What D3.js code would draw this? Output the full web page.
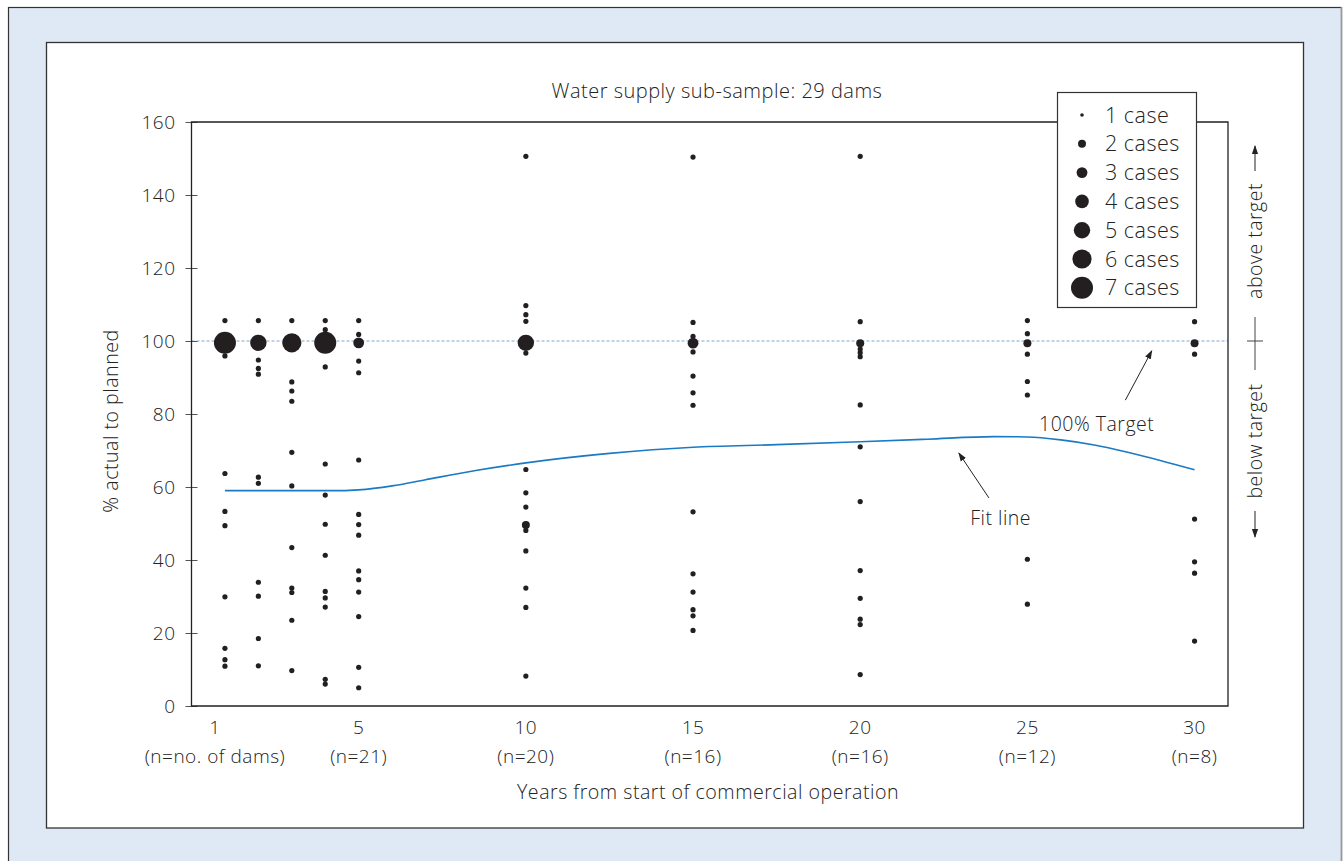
<!DOCTYPE html>
<html>
<head>
<meta charset="utf-8">
<title>Water supply sub-sample</title>
<script src="https://cdnjs.cloudflare.com/ajax/libs/d3/7.8.5/d3.min.js"></script>
<style>
body { margin: 0; background: #fff; overflow: hidden; }
svg text { font-family: "Open Sans", "Noto Sans", sans-serif; font-weight: 300; fill: #222; letter-spacing: 0.5px; }
.tick text { font-size: 19px; }
</style>
</head>
<body>
<div id="chart"></div>
<script>
// single-case observations, % actual to planned, by year
var year1 = [105.6, 95.9, 63.7, 53.3, 49.4, 29.9, 15.8, 12.7, 10.9];
var year2 = [105.6, 94.8, 92.5, 90.9, 62.7, 61.0, 33.9, 30.1, 18.5, 11.0];
var year3 = [105.6, 88.8, 86.3, 83.5, 69.5, 60.3, 43.4, 32.3, 31.1, 23.5, 9.7];
var year4 = [105.6, 103.1, 92.9, 66.3, 57.8, 49.8, 41.3, 31.4, 29.6, 27.1, 7.3, 6.0];
var year5 = [105.6, 101.8, 94.5, 91.3, 67.4, 52.5, 49.7, 46.8, 37.0, 34.6, 31.2, 24.5, 10.6, 5.0];
var year10 = [150.6, 109.7, 107.2, 105.4, 96.7, 64.8, 58.4, 54.5, 48.1, 42.5, 32.3, 27.0, 8.2];
var year15 = [150.4, 105.1, 101.3, 97.0, 90.4, 85.8, 82.4, 53.2, 36.2, 31.2, 26.4, 24.7, 20.7];
var year20 = [150.6, 105.3, 97.8, 96.8, 95.7, 82.5, 71.0, 56.0, 37.1, 29.5, 23.8, 22.3, 8.6];
var year25 = [105.6, 102.0, 96.4, 88.9, 85.2, 40.2, 27.9];
var year30 = [105.3, 96.4, 51.2, 39.5, 36.4, 17.8];

// stacked cases: [year, value, cases]
var multiCases = [[1, 99.5, 7], [2, 99.5, 5], [3, 99.5, 6], [4, 99.5, 7], [5, 99.5, 3],
  [10, 99.5, 5], [10, 49.6, 2], [15, 99.4, 3], [20, 99.4, 2], [25, 99.4, 2], [30, 99.4, 2]];

// fit line
var fitYears = [1, 3, 4.5, 5, 6, 7, 8.5, 10, 12.5, 15, 17.5, 20, 22, 24, 25, 26, 27, 28, 29, 30];
var fitValues = [59, 59, 59, 59.2, 60.3, 62, 64.5, 66.6, 69.2, 70.9, 71.6, 72.4, 73.1, 73.8, 73.7, 72.9, 71.5, 69.5, 67.2, 64.7];

var xTicks = [1, 5, 10, 15, 20, 25, 30];
var xSubLabels = ["(n=no. of dams)", "(n=21)", "(n=20)", "(n=16)", "(n=16)", "(n=12)", "(n=8)"];
var yTicks = [0, 20, 40, 60, 80, 100, 120, 140, 160];
var legendCases = [1, 2, 3, 4, 5, 6, 7];
var legendLabels = ["1 case", "2 cases", "3 cases", "4 cases", "5 cases", "6 cases", "7 cases"];

var W = 1343, H = 861;
var svg = d3.select("#chart").append("svg").attr("width", W).attr("height", H);

var defs = svg.append("defs");
defs.append("marker").attr("id", "arr")
  .attr("viewBox", "0 0 10 10").attr("refX", 9).attr("refY", 5)
  .attr("markerWidth", 9).attr("markerHeight", 9).attr("orient", "auto")
  .append("path").attr("d", "M0,1.5L10,5L0,8.5Z").attr("fill", "#222");

// panels
svg.append("rect").attr("x", 8.5).attr("y", 7.5).attr("width", 1333).attr("height", 870)
  .attr("fill", "#dfe8f5").attr("stroke", "#333").attr("stroke-width", 1.2);
svg.append("line").attr("x1", 1341.5).attr("x2", 1341.5).attr("y1", 7).attr("y2", H)
  .attr("stroke", "#999").attr("stroke-width", 1.5);
svg.append("rect").attr("x", 46.5).attr("y", 42.5).attr("width", 1257).attr("height", 785.5)
  .attr("fill", "#fff").attr("stroke", "#333").attr("stroke-width", 1.3);

var plotLeft = 191.5, plotRight = 1228, plotTop = 122, plotBottom = 706;
var x = d3.scaleLinear().domain([0, 31]).range([plotLeft, plotRight]);
var y = d3.scaleLinear().domain([0, 160]).range([plotBottom, plotTop]);
var r = d3.scaleLinear().domain([1, 7]).range([2.6, 11]);

// 100% target dashed line
svg.append("line").attr("x1", plotLeft).attr("x2", plotRight).attr("y1", y(100)).attr("y2", y(100))
  .attr("stroke", "#7fa6cf").attr("stroke-width", 1).attr("stroke-dasharray", "3,2");

// y axis
var yAxis = svg.append("g").attr("transform", "translate(" + plotLeft + ",0)")
  .call(d3.axisLeft(y).tickValues(yTicks).tickSize(6).tickPadding(10));
yAxis.select(".domain").remove();
yAxis.selectAll(".tick line").attr("x1", 6).attr("stroke", "#555");

// frame
svg.append("path")
  .attr("d", "M" + plotLeft + "," + plotTop + "V" + plotBottom + "H" + plotRight + "V" + plotTop + "Z")
  .attr("fill", "none").attr("stroke", "#222").attr("stroke-width", 1.3);

// x labels
var xl = svg.append("g");
xl.selectAll("text.yr").data(xTicks).enter().append("text")
  .attr("x", function (d, i) { return x(d) - (i === 0 ? 10 : 0); })
  .attr("y", plotBottom + 28).attr("text-anchor", "middle").style("font-size", "19px")
  .text(function (d) { return d; });
xl.selectAll("text.n").data(xSubLabels).enter().append("text")
  .attr("x", function (d, i) { return x(xTicks[i]) - (i === 0 ? 10 : 0); })
  .attr("y", plotBottom + 57).attr("text-anchor", "middle").style("font-size", "19px")
  .text(function (d) { return d; });

svg.append("text").attr("x", 708).attr("y", 799).attr("text-anchor", "middle")
  .style("font-size", "19.6px").text("Years from start of commercial operation");
svg.append("text").attr("transform", "translate(118,421) rotate(-90)").attr("text-anchor", "middle")
  .style("font-size", "19.6px").text("% actual to planned");
svg.append("text").attr("x", 717).attr("y", 98).attr("text-anchor", "middle")
  .style("font-size", "20px").text("Water supply sub-sample: 29 dams");

// fit line
var fit = d3.line().x(function (d, i) { return x(fitYears[i]); })
  .y(function (d) { return y(d); }).curve(d3.curveMonotoneX);
svg.append("path").datum(fitValues).attr("d", fit)
  .attr("fill", "none").attr("stroke", "#1a7ac4").attr("stroke-width", 1.6);

// dots
var singles = [[1, year1], [2, year2], [3, year3], [4, year4], [5, year5],
  [10, year10], [15, year15], [20, year20], [25, year25], [30, year30]];
var pts = [];
singles.forEach(function (s) {
  s[1].forEach(function (v) { pts.push([s[0], v, 1]); });
});
multiCases.forEach(function (m) { pts.push(m); });
svg.append("g").selectAll("circle").data(pts).enter().append("circle")
  .attr("cx", function (d) { return x(d[0]); })
  .attr("cy", function (d) { return y(d[1]); })
  .attr("r", function (d) { return r(d[2]); })
  .attr("fill", "#231f20");

// annotations
svg.append("line").attr("x1", x(27.93)).attr("y1", y(83.8)).attr("x2", x(28.72)).attr("y2", y(97.3))
  .attr("stroke", "#222").attr("stroke-width", 1).attr("marker-end", "url(#arr)");
svg.append("text").attr("x", x(25.35)).attr("y", y(75.4)).style("font-size", "19.5px").text("100% Target");
svg.append("line").attr("x1", x(23.85)).attr("y1", y(57)).attr("x2", x(22.95)).attr("y2", y(69.3))
  .attr("stroke", "#222").attr("stroke-width", 1).attr("marker-end", "url(#arr)");
svg.append("text").attr("x", x(24.2)).attr("y", y(49.7)).attr("text-anchor", "middle")
  .style("font-size", "19.5px").text("Fit line");

// above / below target side note
var sx = 1255;
var side = svg.append("g");
side.append("line").attr("x1", sx).attr("x2", sx).attr("y1", 171).attr("y2", 146)
  .attr("stroke", "#222").attr("marker-end", "url(#arr)");
side.append("line").attr("x1", sx).attr("x2", sx).attr("y1", 511).attr("y2", 537)
  .attr("stroke", "#222").attr("marker-end", "url(#arr)");
side.append("line").attr("x1", sx).attr("x2", sx).attr("y1", 317).attr("y2", 370)
  .attr("stroke", "#444");
side.append("line").attr("x1", sx - 8).attr("x2", sx + 8).attr("y1", y(100)).attr("y2", y(100))
  .attr("stroke", "#444");
side.append("text").attr("transform", "translate(" + (sx + 7) + ",241) rotate(-90)")
  .attr("text-anchor", "middle").style("font-size", "19.5px").text("above target");
side.append("text").attr("transform", "translate(" + (sx + 7) + ",441) rotate(-90)")
  .attr("text-anchor", "middle").style("font-size", "19.5px").text("below target");

// legend
var lg = svg.append("g");
lg.append("rect").attr("x", 1057.5).attr("y", 92.5).attr("width", 139).attr("height", 215)
  .attr("fill", "#fff").attr("stroke", "#333").attr("stroke-width", 1.2);
var rows = lg.selectAll("g.row").data(legendCases).enter().append("g")
  .attr("transform", function (d, i) { return "translate(0," + (115 + i * 28.8) + ")"; });
rows.append("circle").attr("cx", 1082).attr("cy", 0).attr("r", function (d) { return d === 1 ? 1.8 : r(d); })
  .attr("fill", "#231f20");
rows.append("text").attr("x", 1105).attr("y", 7.5).style("font-size", "21.5px")
  .text(function (d, i) { return legendLabels[i]; });
</script>
</body>
</html>
